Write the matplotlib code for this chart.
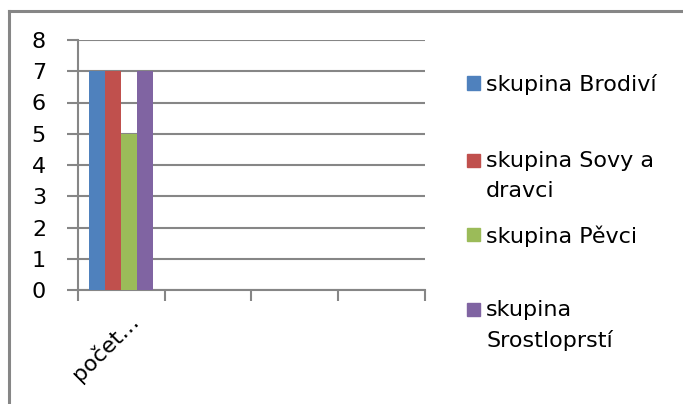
import matplotlib
matplotlib.use("Agg")
import matplotlib.pyplot as plt
import matplotlib.transforms as mtransforms
import numpy as np
from matplotlib.patches import Rectangle
from matplotlib.lines import Line2D

categories = ["počet…", "", "", ""]
series_names = ["skupina Brodiví", "skupina Sovy a\ndravci", "skupina Pěvci", "skupina\nSrostloprstí"]
values = {
    "skupina Brodiví": [7, np.nan, np.nan, np.nan],
    "skupina Sovy a\ndravci": [7, np.nan, np.nan, np.nan],
    "skupina Pěvci": [5, np.nan, np.nan, np.nan],
    "skupina\nSrostloprstí": [7, np.nan, np.nan, np.nan],
}
colors = ["#4F81BD", "#C0504D", "#9BBB59", "#8064A2"]
yticks = list(range(0, 9))

plt.rcParams['font.family'] = ['DejaVu Sans']
W, H = 683, 404
fig = plt.figure(figsize=(W / 100, H / 100), dpi=100)

# outer chart border (only top and left visible)
fig.add_artist(Line2D([9 / W, 9 / W], [0, 1 - 11 / H], transform=fig.transFigure,
                      color="#868686", lw=2.2))
fig.add_artist(Line2D([9 / W, 1], [1 - 11 / H, 1 - 11 / H], transform=fig.transFigure,
                      color="#868686", lw=2.2))

x0, x1 = 78, 425
y0, y1 = 290, 40
ax = fig.add_axes([x0 / W, 1 - y0 / H, (x1 - x0) / W, (y0 - y1) / H])

n = len(series_names)
bw = 0.184
x = np.arange(len(categories))
for i, (name, c) in enumerate(zip(series_names, colors)):
    ax.bar(x + (i - (n - 1) / 2) * bw, values[name], width=bw, color=c, zorder=3)

ax.set_xlim(-0.5, len(categories) - 0.5)
ax.set_ylim(0, 8)
ax.set_yticks(yticks)
ax.set_yticklabels([str(v) for v in yticks], fontsize=16)
ax.grid(axis="y", color="#868686", lw=1.5, zorder=0)
ax.tick_params(axis="y", length=8, width=1.5, color="#868686", pad=15)

ax.set_xticks(x)
ax.set_xticklabels(categories, rotation=45, ha="right", va="top",
                   rotation_mode="anchor", fontsize=16)
ax.tick_params(axis="x", which="major", length=0, pad=14)
ax.set_xticks(np.arange(-0.5, len(categories)), minor=True)
ax.tick_params(axis="x", which="minor", length=8, width=1.5, color="#868686")
offset = mtransforms.ScaledTranslation(6 / 100, 0, fig.dpi_scale_trans)
for lbl in ax.get_xticklabels():
    lbl.set_transform(lbl.get_transform() + offset)
for s in ["top", "right"]:
    ax.spines[s].set_visible(False)
for s in ["left", "bottom"]:
    ax.spines[s].set_color("#868686")
    ax.spines[s].set_linewidth(1.5)

# legend (manual, Excel-like placement)
legend_rows = [83, 160, 234, 309]
for name, c, yc in zip(series_names, colors, legend_rows):
    fig.add_artist(Rectangle((467 / W, 1 - (yc + 6.5) / H), 13 / W, 13 / H,
                             transform=fig.transFigure, color=c))
    fig.text(486 / W, 1 - (yc - 9) / H, name, fontsize=16, ha="left", va="top",
             linespacing=1.6)

fig.savefig("out.png", dpi=100)
